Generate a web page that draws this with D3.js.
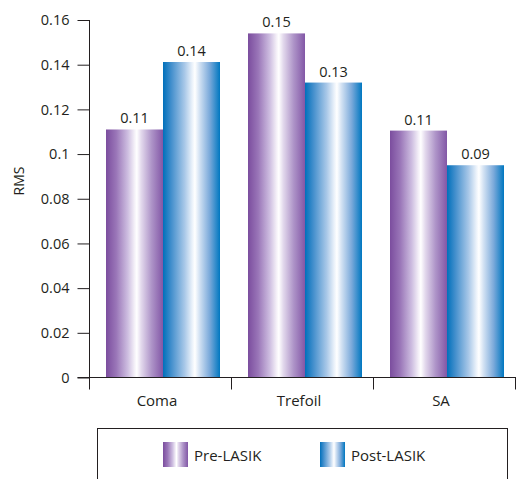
<!DOCTYPE html>
<html><head><meta charset="utf-8">
<script src="https://cdn.jsdelivr.net/npm/d3@7"></script>
<style>
html,body{margin:0;padding:0;background:#fff;}
svg{display:block;}
text{font-family:"Open Sans","Noto Sans",sans-serif;fill:#231f20;}
</style></head>
<body>
<svg id="chart" width="517" height="479"></svg>
<script>
const categories = ["Coma", "Trefoil", "SA"];
const seriesNames = ["Pre-LASIK", "Post-LASIK"];
const preValues = [0.111, 0.154, 0.1105];
const postValues = [0.1412, 0.132, 0.095];
const valueLabels = [["0.11", "0.14"], ["0.15", "0.13"], ["0.11", "0.09"]];
const yTicks = [0, 0.02, 0.04, 0.06, 0.08, 0.1, 0.12, 0.14, 0.16];
const yTickLabels = ["0", "0.02", "0.04", "0.06", "0.08", "0.1", "0.12", "0.14", "0.16"];

const svg = d3.select("#chart");
const margin = {left: 89.5, right: 1, top: 20, bottom: 102};
const W = 517, H = 479;
const plotBottom = 377.5;

const defs = svg.append("defs");
function grad(id, stops) {
  const g = defs.append("linearGradient").attr("id", id)
    .attr("x1", "0%").attr("x2", "100%").attr("y1", "0%").attr("y2", "0%");
  stops.forEach(s => g.append("stop").attr("offset", s[0]).attr("stop-color", s[1]));
}
grad("gPre", [["0%", "#7b4d9e"], ["18%", "#9a76b8"], ["38%", "#cdbde0"], ["50%", "#f4f0f8"], ["54%", "#ffffff"], ["62%", "#e2d8ec"], ["80%", "#ae94c8"], ["100%", "#8257a6"]]);
grad("gPost", [["0%", "#0070bb"], ["15%", "#4590cd"], ["38%", "#a9c8e8"], ["52%", "#eef4fb"], ["56%", "#ffffff"], ["64%", "#d3e2f3"], ["82%", "#7aa9da"], ["100%", "#0077c0"]]);
const fills = ["url(#gPre)", "url(#gPost)"];

const x0 = d3.scaleBand().domain(categories).range([margin.left, W - 1.5]).paddingInner(0).paddingOuter(0);
const x1 = d3.scaleBand().domain(seriesNames).range([16.5, x0.bandwidth() - 11.5]).padding(0);
const y = d3.scaleLinear().domain([0, 0.16]).range([plotBottom, margin.top]);

const data = categories.map((c, i) => ({cat: c, vals: [preValues[i], postValues[i]], labels: valueLabels[i]}));

const groups = svg.append("g").selectAll("g").data(data).join("g")
  .attr("transform", d => `translate(${x0(d.cat)},0)`);

groups.selectAll("rect").data(d => d.vals.map((v, j) => ({v, j, name: seriesNames[j]})))
  .join("rect")
  .attr("x", d => x1(d.name))
  .attr("width", x1.bandwidth())
  .attr("y", d => y(d.v))
  .attr("height", d => plotBottom - y(d.v))
  .attr("fill", d => fills[d.j]);

groups.selectAll("text.val").data(d => d.vals.map((v, j) => ({v, j, name: seriesNames[j], label: d.labels[j]})))
  .join("text").attr("class", "val")
  .attr("x", d => x1(d.name) + x1.bandwidth() / 2)
  .attr("y", d => y(d.v) - 6)
  .attr("text-anchor", "middle")
  .style("font-size", "14.5px")
  .text(d => d.label);

// Y axis
const yAxis = d3.axisLeft(y).tickValues(yTicks).tickFormat((d, i) => yTickLabels[i]).tickSize(12).tickPadding(8);
const yg = svg.append("g").attr("transform", `translate(${margin.left},0)`).call(yAxis);
yg.select(".domain").remove();
yg.append("line").attr("x1", 0).attr("x2", 0).attr("y1", margin.top).attr("y2", plotBottom + 12).attr("stroke", "#231f20");
yg.selectAll(".tick line").attr("stroke", "#231f20");
yg.selectAll(".tick text").style("font-size", "14.5px").attr("fill", "#231f20").style("font-family", '"Open Sans","Noto Sans",sans-serif');

// X axis
const xg = svg.append("g");
xg.append("line").attr("x1", margin.left - 12).attr("x2", W - 1).attr("y1", plotBottom).attr("y2", plotBottom).attr("stroke", "#231f20");
const bounds = categories.map(c => x0(c)).concat([x0(categories[categories.length - 1]) + x0.bandwidth()]);
xg.selectAll("line.sep").data(bounds.slice(1)).join("line").attr("class", "sep")
  .attr("x1", d => d).attr("x2", d => d).attr("y1", plotBottom).attr("y2", plotBottom + 12).attr("stroke", "#231f20");
xg.selectAll("text").data(categories).join("text")
  .attr("x", d => x0(d) + x0.bandwidth() / 2 - 3.5)
  .attr("y", 406)
  .attr("text-anchor", "middle")
  .style("font-size", "15px")
  .text(d => d);

// Y label
svg.append("text").attr("transform", "translate(24,181) rotate(-90)")
  .attr("text-anchor", "middle").style("font-size", "14px").text("RMS");

// Legend
const lg = svg.append("g");
lg.append("rect").attr("x", 97.5).attr("y", 428.5).attr("width", 410).attr("height", 80)
  .attr("fill", "none").attr("stroke", "#231f20").attr("stroke-width", 1);
const legX = [163, 320];
seriesNames.forEach((s, i) => {
  lg.append("rect").attr("x", legX[i]).attr("y", 442).attr("width", 25).attr("height", 25).attr("fill", fills[i]);
  lg.append("text").attr("x", legX[i] + 31).attr("y", 460.5).style("font-size", "15px").text(s);
});
</script>
</body></html>
